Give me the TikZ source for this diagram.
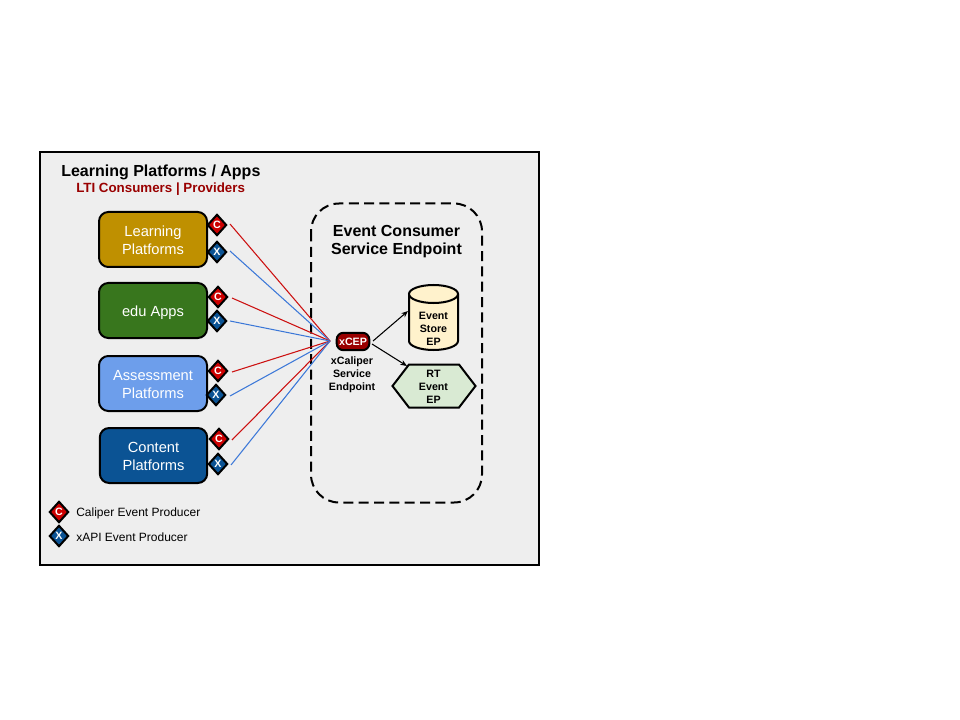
\documentclass[tikz,border=0pt]{standalone}
\usepackage{fontspec}
\setmainfont{Liberation Sans}
\usetikzlibrary{shapes.geometric,arrows.meta,positioning}
\definecolor{panelgray}{HTML}{EEEEEE}
\definecolor{darkred}{HTML}{990000}
\definecolor{cred}{HTML}{CC0000}
\definecolor{xblue}{HTML}{0B5394}
\definecolor{linered}{HTML}{CC1111}
\definecolor{lineblue}{HTML}{3C78D8}
\definecolor{goldbox}{HTML}{BF9000}
\definecolor{greenbox}{HTML}{38761D}
\definecolor{lightblue}{HTML}{6D9EEB}
\definecolor{storefill}{HTML}{FFF2CC}
\definecolor{hexfill}{HTML}{D9EAD3}
\newcommand{\ptext}[1]{\raisebox{0pt}[\dimexpr\height+3pt\relax]{\begin{tabular}{@{}c@{}}#1\end{tabular}}}
\tikzset{
  x=0.75pt,y=-0.75pt,
  platform/.style={draw=black,line width=1.5pt,rounded corners=7pt,minimum width=81pt,minimum height=41.25pt,inner sep=0pt,text=white,font=\fontsize{11}{13.5}\selectfont},
  badge/.style={diamond,draw=black,line width=1.5pt,minimum width=14.5pt,minimum height=16pt,inner sep=0pt,text=white,font=\bfseries\fontsize{8}{8}\selectfont},
  cbadge/.style={badge,fill=cred},
  xbadge/.style={badge,fill=xblue},
  redline/.style={draw=linered,line width=0.8pt},
  blueline/.style={draw=lineblue,line width=0.8pt},
  flow/.style={draw=black,line width=0.8pt,-{Stealth[length=5pt,width=4pt]}},
  small/.style={align=center,inner sep=0pt,font=\bfseries\fontsize{8}{9.75}\selectfont},
  legend/.style={anchor=west,inner sep=0pt,font=\fontsize{9}{11}\selectfont},
}
\begin{document}
\begin{tikzpicture}
\useasboundingbox (0,0) rectangle (960,720);
\fill[white] (0,0) rectangle (960,720);
\draw[fill=panelgray,draw=black,line width=1.5pt] (39.5,152.5) rectangle (539,564.5);
\node[anchor=west,inner sep=0pt,font=\bfseries\fontsize{12}{14}\selectfont] (title) at (61,172) {Learning Platforms / Apps};
\node[anchor=west,inner sep=0pt,text=darkred,font=\bfseries\fontsize{10}{12}\selectfont] (subtitle) at (76,189.5) {LTI Consumers | Providers};
\draw[dashed,dash pattern=on 7.5pt off 4pt,line width=1.5pt,rounded corners=21pt] (311,203.5) rectangle (482,502.5);
\node[align=center,inner sep=0pt,font=\bfseries\fontsize{12}{14}\selectfont] (ecse) at (396.5,241.5) {Event Consumer\\Service Endpoint};

\node[platform,fill=goldbox] (lp) at (153,239.5) {\ptext{Learning\\Platforms}};
\node[platform,fill=greenbox] (edu) at (153,310.5) {\ptext{edu Apps}};
\node[platform,fill=lightblue] (ap) at (153,383.5) {\ptext{Assessment\\Platforms}};
\node[platform,fill=xblue,minimum width=80.5pt] (cp) at (153.5,455.5) {\ptext{Content\\Platforms}};

\node[cbadge] (c1) at (217,225) {C};
\node[xbadge] (x1) at (217,252) {X};
\node[cbadge] (c2) at (218,297) {C};
\node[xbadge] (x2) at (217,321) {X};
\node[cbadge] (c3) at (218,371) {C};
\node[xbadge] (x3) at (216,395) {X};
\node[cbadge] (c4) at (219,439) {C};
\node[xbadge] (x4) at (218,464) {X};
\node[cbadge] (lc) at (59,512) {C};
\node[xbadge] (lx) at (59,536) {X};
\node[legend] (lct) at (76,513) {Caliper Event Producer};
\node[legend] (lxt) at (76,537.5) {xAPI Event Producer};

\node[draw=black,line width=1.5pt,fill=darkred,rounded corners=5pt,minimum width=24.5pt,minimum height=13pt,inner sep=0pt,text=white,font=\bfseries\fontsize{8}{10}\selectfont] (xcep) at (353,341.5) {xCEP};
\node[small] (xcs) at (352,375) {xCaliper\\Service\\Endpoint};
\coordinate (hub) at (330,341);

\coordinate (sc1) at (230,224);
\coordinate (sx1) at (230,251);
\coordinate (sc2) at (232,298);
\coordinate (sx2) at (230,321);
\coordinate (sc3) at (232,372);
\coordinate (sx3) at (230,396);
\coordinate (sc4) at (232,440);
\coordinate (sx4) at (231,465);
\draw[redline] (sc1) -- (hub);
\draw[blueline] (sx1) -- (hub);
\draw[redline] (sc2) -- (hub);
\draw[blueline] (sx2) -- (hub);
\draw[redline] (sc3) -- (hub);
\draw[blueline] (sx3) -- (hub);
\draw[redline] (sc4) -- (hub);
\draw[blueline] (sx4) -- (hub);

\draw[fill=storefill,draw=black,line width=1.5pt] (409,294) -- (409,341) arc[start angle=180,end angle=360,x radius=18.375pt,y radius=6.75pt] -- (458,294);
\draw[fill=storefill,draw=black,line width=1.5pt] (433.5,294) ellipse[x radius=18.375pt,y radius=6.75pt];
\node[small] (storet) at (433.5,328.5) {Event\\Store\\EP};
\draw[fill=hexfill,draw=black,line width=1.5pt] (392.5,386) -- (409,364.5) -- (459,364.5) -- (475.5,386) -- (459,407.5) -- (409,407.5) -- cycle;
\node[small] (rt) at (433.5,386.5) {RT\\Event\\EP};
\coordinate (fa) at (373,341);
\coordinate (fb) at (372,344);
\coordinate (ta) at (408,311);
\coordinate (tb) at (407,366);
\draw[flow] (fa) -- (ta);
\draw[flow] (fb) -- (tb);
\end{tikzpicture}
\end{document}
